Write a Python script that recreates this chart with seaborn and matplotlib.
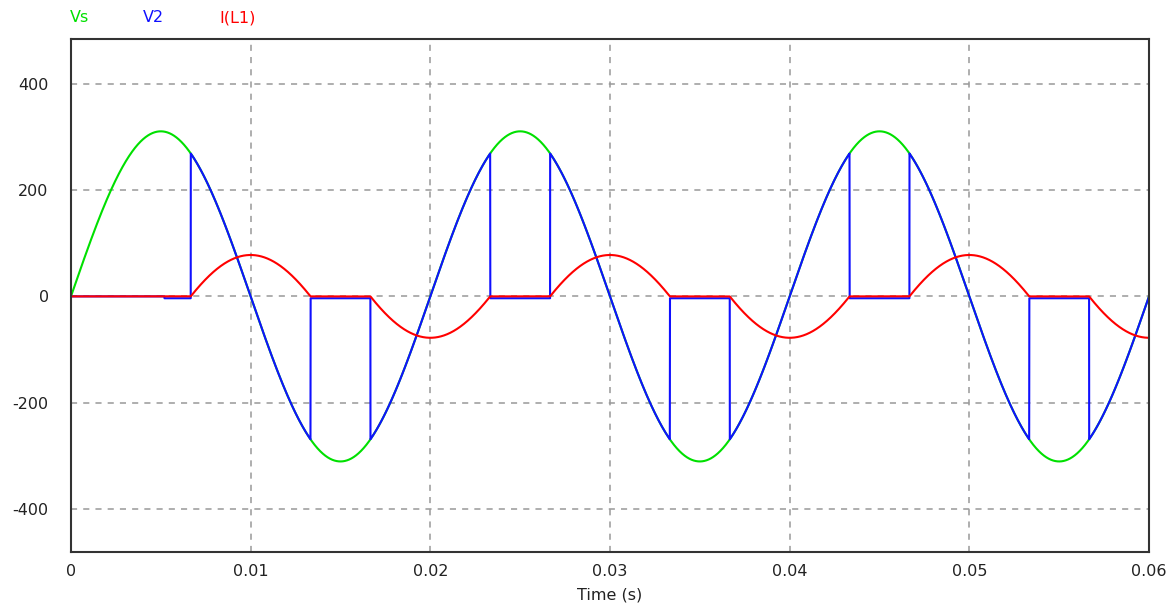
import numpy as np
import pandas as pd
import matplotlib
matplotlib.use("Agg")
import matplotlib.pyplot as plt
import seaborn as sns

# ----------------------------------------------------
# valores
# ----------------------------------------------------
vs_pico = 311.0          # amplitud de Vs (V)
frecuencia = 50.0        # Hz
angulo_disparo = 120.0   # grados (V2 salta en t = 6.67 ms)
il_pico = 78.0           # pico de I(L1)
t_fin = 0.06
offset_bloqueo = -3.5    # V2 queda un poco bajo cero cuando no conduce
t_offset_inicio = 0.0052 # antes de esto V2 esta en 0 exacto

series = ["Vs", "V2", "I(L1)"]
colores = {"Vs": "#00e000", "V2": "#1010ff", "I(L1)": "#ff0000"}
ticks_x = [0, 0.01, 0.02, 0.03, 0.04, 0.05, 0.06]
etiquetas_x = ["0", "0.01", "0.02", "0.03", "0.04", "0.05", "0.06"]
ticks_y = [-400, -200, 0, 200, 400]

# ----------------------------------------------------
# formas de onda (controlador AC con carga inductiva)
# ----------------------------------------------------
t = np.linspace(0, t_fin, 12001)
w = 2 * np.pi * frecuencia
theta = np.degrees(w * t)
fase = np.mod(theta, 360)
alfa = angulo_disparo
cos_a = np.cos(np.radians(alfa))
base = il_pico / (cos_a + 1)  # corriente maxima en theta = 180

vs = vs_pico * np.sin(w * t)

cond_pos = (fase >= alfa) & (fase <= 360 - alfa)
cond_neg = ((fase >= 180 + alfa) | (fase <= 180 - alfa)) & (theta >= 180 + alfa)

il = np.zeros_like(t)
il[cond_pos] = base * (cos_a - np.cos(np.radians(fase[cond_pos])))
il[cond_neg] = -base * (cos_a - np.cos(np.radians(fase[cond_neg] - 180)))

v2 = np.where(cond_pos | cond_neg, vs, offset_bloqueo)
v2[t < t_offset_inicio] = 0.0

df = pd.DataFrame({"t": np.concatenate([t, t, t]),
                   "valor": np.concatenate([vs, v2, il]),
                   "serie": np.repeat(series, len(t))})

# ----------------------------------------------------
# grafica
# ----------------------------------------------------
sns.set_style("white")
plt.rcParams["font.family"] = ["DejaVu Sans"]
plt.rcParams["axes.unicode_minus"] = False

fig = plt.figure(figsize=(11.69, 6.11), dpi=100)
ax = fig.add_axes([0.0607, 0.0971, 0.9222, 0.8391])

for s in series:
    sns.lineplot(data=df[df["serie"] == s], x="t", y="valor", color=colores[s],
                 linewidth=1.5, estimator=None, sort=False, ax=ax, legend=False)

ax.set_xlim(0, t_fin)
ax.set_ylim(-481, 485)
ax.set_xticks(ticks_x)
ax.set_xticklabels(etiquetas_x)
ax.set_yticks(ticks_y)
ax.grid(True, color="#999999", linestyle=(0, (4, 4)), linewidth=1.1)
ax.tick_params(length=0, labelsize=11.5, colors="#222222")
ax.tick_params(axis="x", pad=9)
ax.tick_params(axis="y", pad=16)
for sp in ax.spines.values():
    sp.set_color("#333333")
    sp.set_linewidth(1.5)
ax.set_xlabel("Time (s)", fontsize=11.5, labelpad=6, color="#222222")
ax.set_ylabel("")

# leyenda tipo PSIM
for x, s in zip([70, 143, 219], series):
    fig.text(x / 1169, 1 - 18 / 611, s, color=colores[s], fontsize=11.5,
             va="center", ha="left")

fig.savefig("out.png", dpi=100)
